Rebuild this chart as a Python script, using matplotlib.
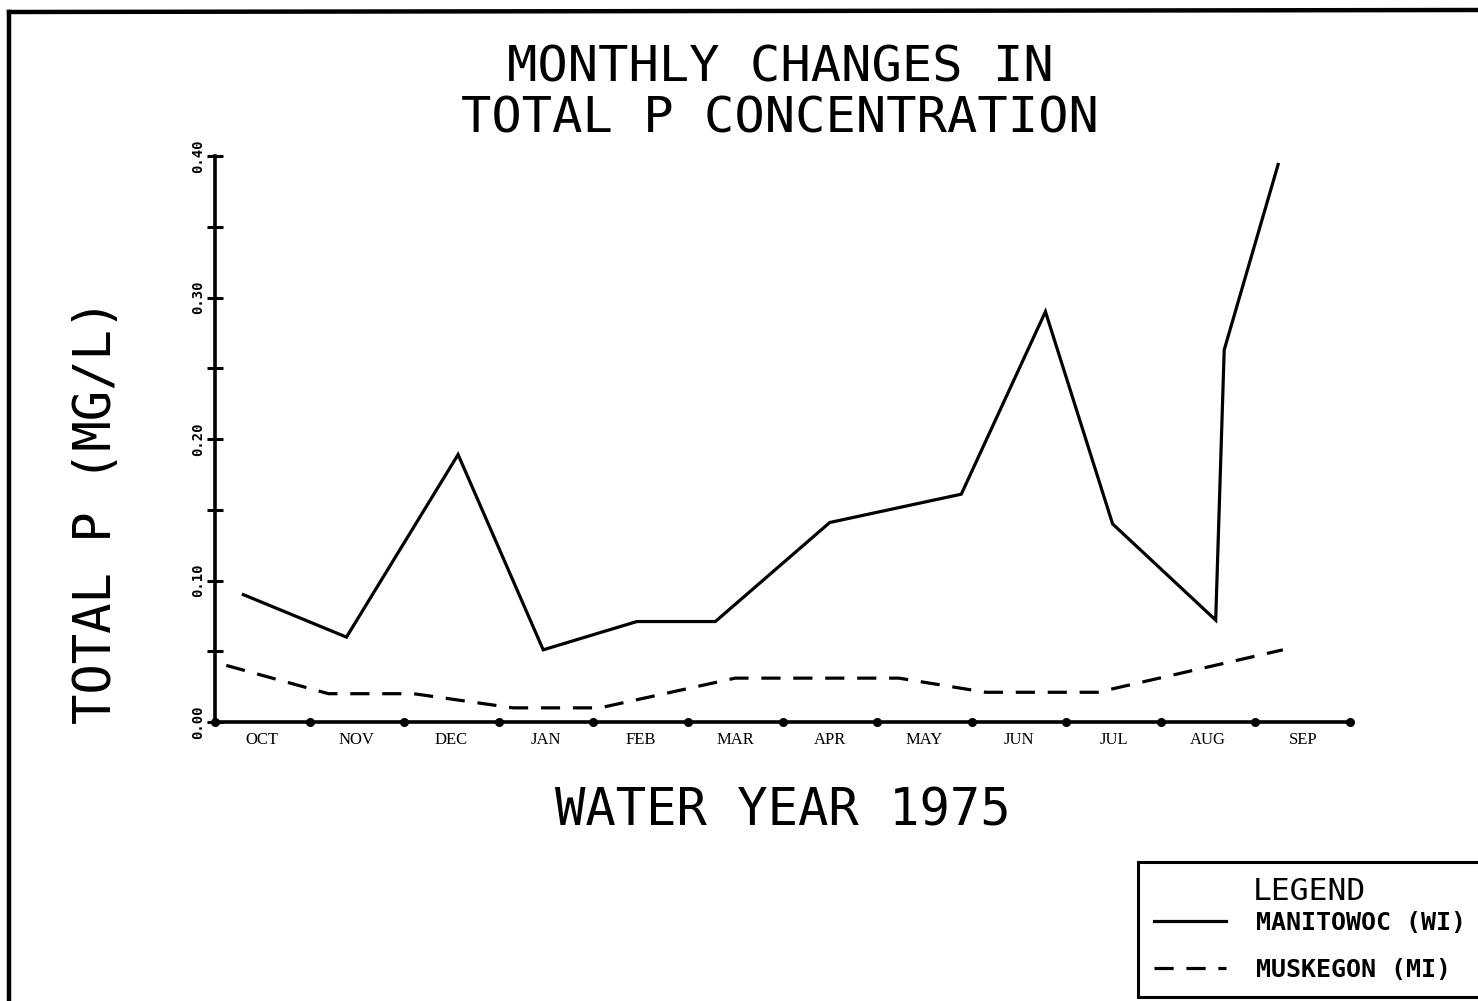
import matplotlib
matplotlib.use("Agg")
import matplotlib.pyplot as plt
from matplotlib.lines import Line2D
from matplotlib.ticker import FixedLocator, FixedFormatter

# ---- data ----
months = ["OCT", "NOV", "DEC", "JAN", "FEB", "MAR", "APR", "MAY", "JUN", "JUL", "AUG", "SEP"]
month_bounds = list(range(13))
manitowoc_x = [0.30, 1.39, 2.57, 3.47, 4.46, 5.29, 6.50, 7.89, 8.78, 9.49, 10.58, 10.67, 11.24]
manitowoc_y = [0.090, 0.060, 0.189, 0.051, 0.071, 0.071, 0.141, 0.161, 0.290, 0.140, 0.072, 0.263, 0.394]
muskegon_x = [0.12, 1.20, 2.10, 3.15, 4.07, 5.50, 7.23, 8.15, 9.33, 11.29]
muskegon_y = [0.040, 0.020, 0.020, 0.010, 0.010, 0.031, 0.031, 0.021, 0.021, 0.051]
yticks_major = [0.00, 0.10, 0.20, 0.30, 0.40]
yticks_minor = [0.05, 0.15, 0.25, 0.35]

W, H = 1478, 1001
fig = plt.figure(figsize=(W / 100, H / 100), dpi=100)
ax = fig.add_axes([215 / W, 1 - 722 / H, (1350 - 215) / W, (722 - 156) / H])

mono = "DejaVu Sans Mono"

l1, = ax.plot(manitowoc_x, manitowoc_y, color="black", lw=2.3, solid_joinstyle="miter")
l2, = ax.plot(muskegon_x, muskegon_y, color="black", lw=2.3, linestyle=(0, (6, 4)))

ax.set_xlim(0, 12)
ax.set_ylim(0, 0.40)

for s in ["top", "right"]:
    ax.spines[s].set_visible(False)
for s in ["left", "bottom"]:
    ax.spines[s].set_linewidth(2.6)

# y ticks
ax.yaxis.set_major_locator(FixedLocator(yticks_major))
ax.yaxis.set_minor_locator(FixedLocator(yticks_minor))
ax.set_yticklabels([f"{v:.2f}" for v in yticks_major])
ax.tick_params(axis="y", which="both", direction="inout", length=12, width=2.2, pad=1)
for t in ax.get_yticklabels():
    t.set_rotation(90)
    t.set_va("center")
    t.set_fontfamily(mono)
    t.set_fontweight("bold")
    t.set_fontsize(10)

# x axis: dots at month boundaries, labels between
ax.plot(month_bounds, [0] * len(month_bounds), "o", color="black", ms=5.5, clip_on=False, zorder=5)
ax.xaxis.set_major_locator(FixedLocator([i + 0.5 for i in range(12)]))
ax.xaxis.set_major_formatter(FixedFormatter(months))
ax.tick_params(axis="x", which="both", length=0, pad=7)
for t in ax.get_xticklabels():
    t.set_fontfamily("Liberation Serif")
    t.set_fontsize(12)

# titles / labels
fig.text(780 / W, 1 - 93 / H, "MONTHLY CHANGES IN\nTOTAL P CONCENTRATION", ha="center", va="center",
         family=mono, fontsize=36.3, linespacing=1.1)
fig.text(97 / W, 1 - 511 / H, "TOTAL P (MG/L)", rotation=90, ha="center", va="center",
         family=mono, fontsize=36.4)
fig.text(783 / W, 1 - 811 / H, "WATER YEAR 1975", ha="center", va="center",
         family=mono, fontsize=36.4)

# legend
leg = fig.legend([l1, l2], ["MANITOWOC (WI)", "MUSKEGON (MI)"], title="LEGEND",
                 loc="upper left", bbox_to_anchor=(1138 / W, 1 - 862 / H),
                 prop={"family": mono, "weight": "bold", "size": 18},
                 title_fontproperties={"family": mono, "size": 22.5},
                 handlelength=2.9, handletextpad=1.2, labelspacing=0.93,
                 borderpad=0.62, borderaxespad=0, fancybox=False, framealpha=1)
leg._legend_box.sep = 3
leg.get_frame().set_edgecolor("black")
leg.get_frame().set_linewidth(2.2)

# outer border (left and top edges visible)
fig.add_artist(Line2D([9 / W, 9 / W], [0, 1 - 12 / H], color="black", lw=3.2, transform=fig.transFigure))
fig.add_artist(Line2D([9 / W, 1], [1 - 12 / H, 1 - 10 / H], color="black", lw=3.2, transform=fig.transFigure))

fig.savefig("out.png", dpi=100, facecolor="white")
